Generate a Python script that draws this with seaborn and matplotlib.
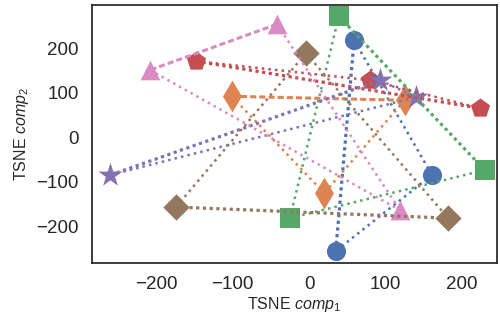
import matplotlib
matplotlib.use('Agg')
import pandas as pd
import matplotlib.pyplot as plt
import seaborn as sns

# three embedded points per class (TSNE coordinates)
labels = [0, 0, 0, 1, 1, 1, 2, 2, 2, 3, 3, 3, 4, 4, 4, 5, 5, 5, 6, 6, 6]
comp1 = [59, 161, 35, -101, 125, 20, 39, 230, -25, -148, 80, 224,
         -260, 93, 140, -4, -174, 182, -42, -208, 119]
comp2 = [218, -85, -256, 92, 83, -126, 272, -74, -182, 171, 128, 65,
         -85, 128, 90, 189, -157, -182, 254, 151, -164]

# which pair in each triangle is drawn heavier, and whether it is dashed
strong_pair = [(0, 2), (0, 1), (0, 1), (0, 2), (0, 1), (1, 2), (0, 1)]
strong_dashed = [False, True, False, False, False, False, True]

marker_map = {0: 'o', 1: 'd', 2: 's', 3: 'p', 4: '*', 5: 'D', 6: '^'}
size_map = {0: 190, 1: 260, 2: 190, 3: 210, 4: 330, 5: 180, 6: 200}

df = pd.DataFrame({'label': labels, 'comp1': comp1, 'comp2': comp2})

sns.set_theme(style='white')
plt.rcParams['font.family'] = ['Liberation Sans', 'DejaVu Sans']
plt.rcParams['mathtext.fontset'] = 'custom'
plt.rcParams['mathtext.it'] = 'Liberation Sans:italic'
plt.rcParams['mathtext.rm'] = 'Liberation Sans'

palette = sns.color_palette('deep', 7)

fig, ax = plt.subplots(figsize=(5, 3.2), dpi=100)
fig.subplots_adjust(left=0.184, right=0.994, top=0.984, bottom=0.178)

for lab in range(7):
    sub = df[df['label'] == lab].reset_index(drop=True)
    sns.scatterplot(data=sub, x='comp1', y='comp2', color=palette[lab],
                    marker=marker_map[lab], s=size_map[lab], linewidth=0,
                    ax=ax, zorder=2, legend=False)
    for i, j in [(0, 1), (0, 2), (1, 2)]:
        xs = [sub.loc[i, 'comp1'], sub.loc[j, 'comp1']]
        ys = [sub.loc[i, 'comp2'], sub.loc[j, 'comp2']]
        if (i, j) == strong_pair[lab]:
            if strong_dashed[lab]:
                ax.plot(xs, ys, color=palette[lab], lw=2.2,
                        dashes=(2, 1), zorder=3)
            else:
                ax.plot(xs, ys, color=palette[lab], lw=2.3,
                        dashes=(1, 1.1), zorder=3)
        else:
            ax.plot(xs, ys, color=palette[lab], lw=1.8, ls=':', zorder=3)

ax.set_xlim(-284, 246)
ax.set_ylim(-283, 297)
ax.set_xticks([-200, -100, 0, 100, 200])
ax.set_yticks([-200, -100, 0, 100, 200])
ax.tick_params(labelsize=13.5)
ax.set_xlabel(r'TSNE $comp_1$', fontsize=11.5, labelpad=1)
ax.set_ylabel(r'TSNE $comp_2$', fontsize=11.5, labelpad=4)
for sp in ax.spines.values():
    sp.set_color('.15')
    sp.set_linewidth(1.25)

plt.savefig('out.png', dpi=100)
